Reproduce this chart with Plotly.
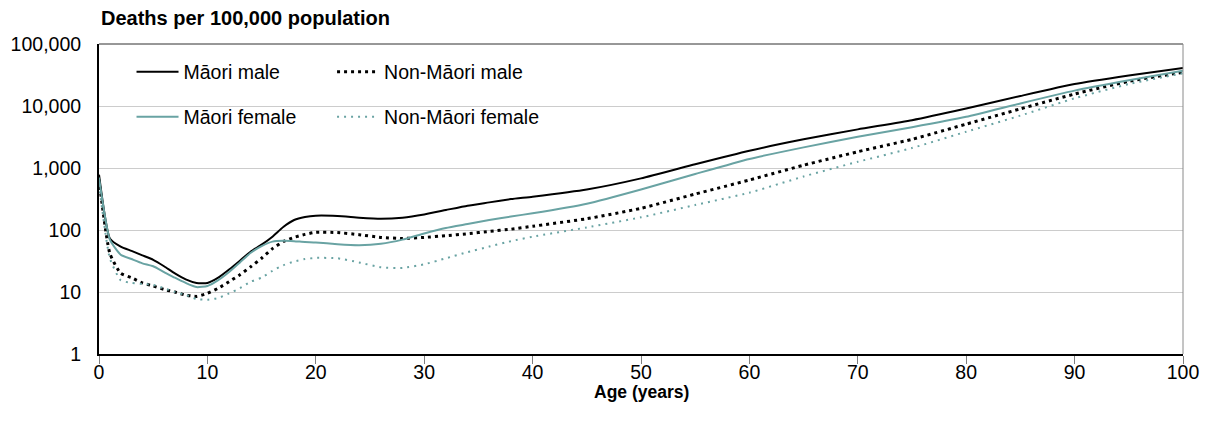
import plotly.graph_objects as go

# ---------------- data ----------------
ages = [0, 1, 2, 3, 4, 5, 6, 7, 8, 9, 10, 11, 12, 13, 14, 15, 16, 17, 18, 19, 20,
        22, 24, 26, 28, 30, 32, 34, 36, 38, 40, 45, 50, 55, 60, 65, 70, 75, 80,
        85, 90, 95, 100]

maori_male = [780, 73, 54, 46, 39, 33, 26, 20, 16, 14, 14, 17, 23, 32, 45, 58, 78, 112,
              145, 162, 170, 168, 158, 152, 158, 178, 210, 247, 279, 315, 345, 450,
              680, 1150, 1900, 2900, 4200, 5900, 9100, 14500, 22600, 31000, 41000]

maori_female = [700, 70, 40, 34, 29, 26, 21, 17, 14, 12, 12.5, 15.5, 21, 30, 43, 55, 65,
                67, 66, 64, 63, 59, 57, 60, 70, 88, 108, 125, 145, 165, 186, 265, 450,
                800, 1400, 2150, 3200, 4550, 6700, 11000, 17700, 26000, 37000]

nonmaori_male = [650, 42, 20, 17, 14, 12.5, 11, 10, 8.9, 8.5, 9.5, 11.5, 14.7, 19, 25.6,
                 35, 50, 65, 76, 85, 92, 91, 84, 76, 73, 76, 81, 87, 95, 103, 115, 152,
                 224, 380, 640, 1110, 1830, 2900, 5100, 9000, 15600, 25000, 35000]

nonmaori_female = [550, 35, 15.5, 14, 13.5, 13, 11.5, 10, 9, 7.7, 7.5, 8, 9.5, 11.5, 14.7,
                   17, 22, 27, 31, 34, 35.5, 35, 30, 25, 24.5, 28, 35, 44, 54, 66, 78, 110,
                   160, 253, 400, 730, 1260, 2100, 3850, 7000, 13300, 22600, 33700]

series_names = ["Māori male", "Non-Māori male", "Māori female", "Non-Māori female"]

x_ticks = [0, 10, 20, 30, 40, 50, 60, 70, 80, 90, 100]
y_ticks = [1, 10, 100, 1000, 10000, 100000]
y_tick_labels = ["1", "10", "100", "1,000", "10,000", "100,000"]

y_title = "Deaths per 100,000 population"
x_title = "Age (years)"

# ---------------- styling ----------------
TEAL = "#69a3a3"
FONT = "Liberation Sans, Arial, sans-serif"
TXT = 19.5

fig = go.Figure()
fig.add_trace(go.Scatter(x=ages, y=maori_male, name=series_names[0], mode="lines",
                         line=dict(color="black", width=2, shape="spline", smoothing=0.5),
                         legend="legend"))
fig.add_trace(go.Scatter(x=ages, y=nonmaori_male, name=series_names[1], mode="lines",
                         line=dict(color="black", width=3, dash="3px,4px", shape="spline", smoothing=0.5),
                         legend="legend2"))
fig.add_trace(go.Scatter(x=ages, y=maori_female, name=series_names[2], mode="lines",
                         line=dict(color=TEAL, width=2, shape="spline", smoothing=0.5),
                         legend="legend3"))
fig.add_trace(go.Scatter(x=ages, y=nonmaori_female, name=series_names[3], mode="lines",
                         line=dict(color=TEAL, width=2, dash="2px,5px", shape="spline", smoothing=0.5),
                         legend="legend4"))

legend_common = dict(orientation="h", xanchor="left", yanchor="middle", itemwidth=42,
                     font=dict(family=FONT, size=TXT, color="black"),
                     bgcolor="rgba(0,0,0,0)")

COL1, COL2 = 0.030, 0.215
ROW1, ROW2 = 0.9097, 0.7645

fig.update_layout(
    width=1202, height=421,
    margin=dict(l=91, r=27, t=36, b=75),
    paper_bgcolor="white", plot_bgcolor="white",
    font=dict(family=FONT, size=TXT, color="black"),
    showlegend=True,
    legend=dict(x=COL1, y=ROW1, **legend_common),
    legend2=dict(x=COL2, y=ROW1, **legend_common),
    legend3=dict(x=COL1, y=ROW2, **legend_common),
    legend4=dict(x=COL2, y=ROW2, **legend_common),
    xaxis=dict(range=[0, 100], tickvals=x_ticks, ticks="outside", ticklen=8,
               tickcolor="#7f7f7f", tickwidth=1, showline=True, linecolor="black",
               linewidth=2, showgrid=False, zeroline=False, automargin=False,
               tickfont=dict(size=TXT), ticklabelstandoff=-8),
    yaxis=dict(type="log", range=[0, 5], tickvals=y_ticks, ticktext=y_tick_labels,
               showline=True, linecolor="black", linewidth=2, showgrid=True,
               gridcolor="#cccccc", gridwidth=1, zeroline=False, ticks="",
               automargin=False, ticklabelstandoff=12, tickfont=dict(size=TXT)),
    annotations=[
        dict(text="<b>" + y_title + "</b>", xref="paper", yref="paper",
             x=0, y=1, xanchor="left", yanchor="middle", yshift=26,
             showarrow=False, font=dict(family=FONT, size=20, color="black")),
        dict(text="<b>" + x_title + "</b>", xref="paper", yref="paper",
             x=0.5, y=0, xanchor="center", yanchor="middle", yshift=-38,
             showarrow=False, font=dict(family=FONT, size=17.5, color="black")),
    ],
    shapes=[dict(type="line", xref="paper", yref="paper", x0=0, x1=1, y0=1, y1=1,
                 line=dict(color="#303030", width=1)),
            dict(type="line", xref="paper", yref="paper", x0=1, x1=1, y0=0, y1=1,
                 line=dict(color="#8a8a8a", width=1))],
)

fig.write_html("out.html")
